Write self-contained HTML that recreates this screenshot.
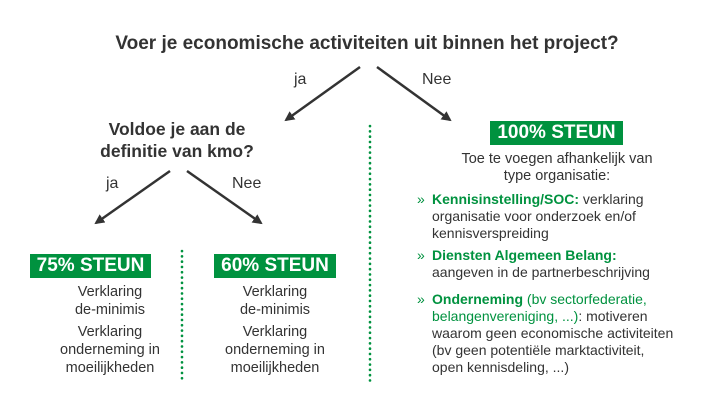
<!DOCTYPE html>
<html><head><meta charset="utf-8"><style>
body{margin:0;width:724px;height:405px;background:#fff;position:relative;overflow:hidden;font-family:"Liberation Sans",sans-serif;color:#333}
.a{position:absolute;white-space:nowrap}
.b{font-weight:bold}
.g{color:#00923f}
.box{position:absolute;background:#00923f;color:#fff;font-weight:bold;font-size:19px;line-height:24px;text-align:center}
.t{position:absolute;text-align:center;font-size:14.5px;line-height:18px}
.r{position:absolute;left:432px;font-size:14px;line-height:17px;width:290px}
.r::before{content:"»";position:absolute;left:-15px;color:#00923f}
</style></head><body>
<div class="a b" style="left:0;width:734px;text-align:center;top:33px;font-size:19px">Voer je economische activiteiten uit binnen het project?</div>
<svg width="724" height="405" style="position:absolute;left:0;top:0">
<defs><marker id="m" markerWidth="10" markerHeight="10" refX="8" refY="5" orient="auto" markerUnits="userSpaceOnUse"><path d="M0,0 L10,5 L0,10 z" fill="#333"/></marker></defs>
<g stroke="#333" stroke-width="2.5">
<line x1="360" y1="67" x2="286" y2="120" marker-end="url(#m)"/>
<line x1="377" y1="67" x2="450" y2="120" marker-end="url(#m)"/>
<line x1="170" y1="171" x2="96" y2="223" marker-end="url(#m)"/>
<line x1="187" y1="171" x2="261" y2="223" marker-end="url(#m)"/>
</g>
<g stroke="#00923f" stroke-width="2.6" stroke-dasharray="0.1 5.2" stroke-linecap="round">
<line x1="370" y1="126" x2="370" y2="383"/>
<line x1="182" y1="251" x2="182" y2="383"/>
</g>
</svg>
<div class="a" style="left:294px;top:71px;font-size:16px">ja</div>
<div class="a" style="left:422px;top:71px;font-size:16px">Nee</div>
<div class="a b" style="left:77px;width:200px;text-align:center;top:118px;font-size:17.5px;line-height:22px">Voldoe je aan de<br>definitie van kmo?</div>
<div class="a" style="left:106px;top:175px;font-size:16px">ja</div>
<div class="a" style="left:232px;top:175px;font-size:16px">Nee</div>
<div class="box" style="left:30px;top:254px;width:121px">75% STEUN</div>
<div class="box" style="left:214px;top:254px;width:122px">60% STEUN</div>
<div class="box" style="left:490px;top:121px;width:133px">100% STEUN</div>
<div class="t" style="left:30px;width:160px;top:283px">Verklaring<br>de-minimis</div>
<div class="t" style="left:30px;width:160px;top:323px">Verklaring<br>onderneming in<br>moeilijkheden</div>
<div class="t" style="left:195px;width:160px;top:283px">Verklaring<br>de-minimis</div>
<div class="t" style="left:195px;width:160px;top:323px">Verklaring<br>onderneming in<br>moeilijkheden</div>
<div class="t" style="left:457px;width:200px;top:151px;line-height:17px">Toe te voegen afhankelijk van<br>type organisatie:</div>
<div class="r" style="top:191px"><span class="g b">Kennisinstelling/SOC:</span> verklaring<br>organisatie voor onderzoek en/of<br>kennisverspreiding</div>
<div class="r" style="top:247px"><span class="g b">Diensten Algemeen Belang:</span><br>aangeven in de partnerbeschrijving</div>
<div class="r" style="top:291px"><span class="g"><b>Onderneming</b> (bv sectorfederatie,<br>belangenvereniging, ...)</span>: motiveren<br>waarom geen economische activiteiten<br>(bv geen potentiële marktactiviteit,<br>open kennisdeling, ...)</div>
</body></html>
